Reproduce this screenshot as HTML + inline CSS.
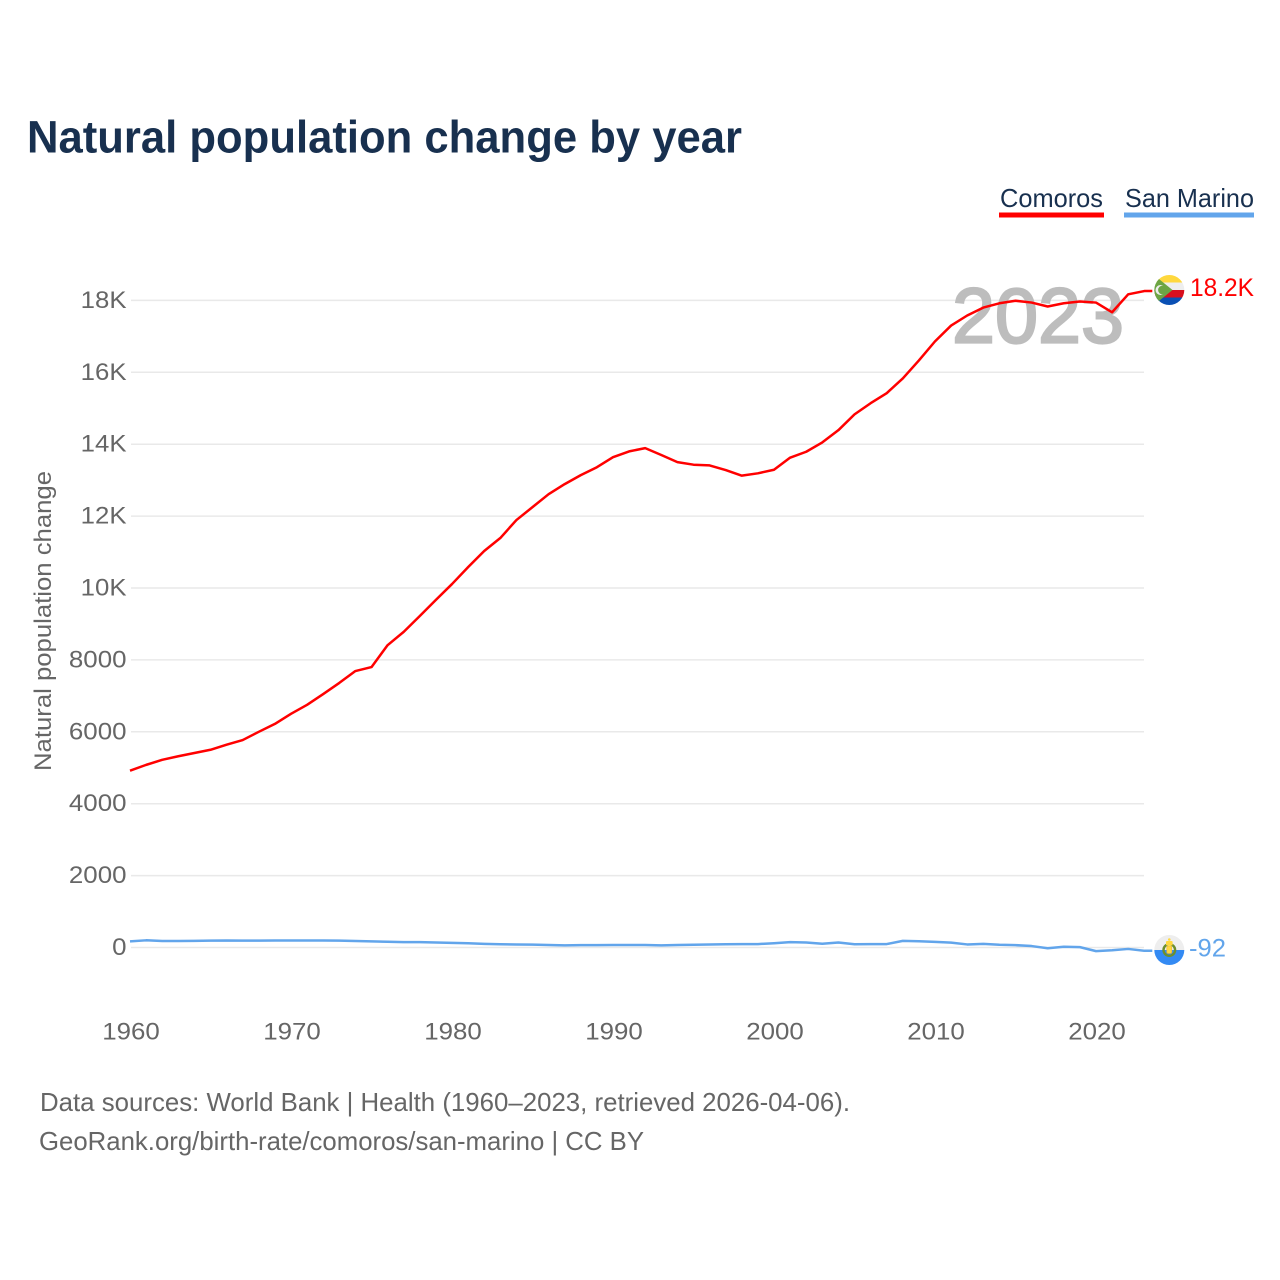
<!DOCTYPE html>
<html lang="en">
<head>
<meta charset="utf-8">
<title>Natural population change by year</title>
<style>
html,body{margin:0;padding:0;background:#fff;}
svg{display:block;font-family:"Liberation Sans",sans-serif;}
</style>
</head>
<body>
<svg id="chart" width="1280" height="1280" viewBox="0 0 1280 1280" xmlns="http://www.w3.org/2000/svg">
  <defs>
    <clipPath id="clip-km"><circle cx="1169.3" cy="290" r="15"/></clipPath>
    <clipPath id="clip-sm"><circle cx="1169.3" cy="950" r="15"/></clipPath>
  </defs>
  <rect width="1280" height="1280" fill="#fff"/>
  <text x="27" y="152.5" font-size="45" font-weight="700" fill="#18304f" textLength="715" lengthAdjust="spacingAndGlyphs">Natural population change by year</text>

  <g>
    <text x="1000" y="207" font-size="26" fill="#18304f" textLength="103" lengthAdjust="spacingAndGlyphs">Comoros</text>
    <rect x="999" y="212.5" width="105" height="5" fill="#ff0000"/>
  </g>
  <g>
    <text x="1125" y="207" font-size="26" fill="#18304f" textLength="129" lengthAdjust="spacingAndGlyphs">San Marino</text>
    <rect x="1124" y="212.5" width="130" height="5" fill="#62a5eb"/>
  </g>

  <g id="grid"></g>
  <text x="952" y="342.5" font-size="78" font-weight="400" fill="#bdbdbd" stroke="#bdbdbd" stroke-width="2.2" textLength="172" lengthAdjust="spacingAndGlyphs">2023</text>
  <g id="y-axis"></g>
  <g id="x-axis"></g>
  <text transform="translate(51,771) rotate(-90)" font-size="24" fill="#666" textLength="300" lengthAdjust="spacingAndGlyphs">Natural population change</text>
  <g id="series"></g>

  <g clip-path="url(#clip-km)">
    <rect x="1154" y="275" width="31" height="7.5" fill="#ffd83d"/>
    <rect x="1154" y="282.5" width="31" height="7.5" fill="#eeeeee"/>
    <rect x="1154" y="290" width="31" height="7.5" fill="#d80f1e"/>
    <rect x="1154" y="297.5" width="31" height="7.5" fill="#0a50b4"/>
    <path d="M1154 275 L1172.5 290 L1154 305 Z" fill="#6da544"/>
    <circle cx="1160.5" cy="290" r="5" fill="#eeeeee"/>
    <circle cx="1162.5" cy="290" r="4.4" fill="#6da544"/>
  </g>
  <g clip-path="url(#clip-sm)">
    <rect x="1154" y="935" width="31" height="15" fill="#eeeeee"/>
    <rect x="1154" y="950" width="31" height="15" fill="#338af3"/>
    <circle cx="1169.3" cy="950" r="5.8" fill="none" stroke="#6d8f2e" stroke-width="2.4"/>
    <rect x="1166.8" y="946" width="5" height="7.5" rx="1.5" fill="#ffd83d" stroke="#f0b429" stroke-width="0.6"/>
    <rect x="1166" y="941" width="6.6" height="4.5" rx="1" fill="#ffd83d"/>
    <circle cx="1169.3" cy="939.5" r="1.3" fill="#ffd83d"/>
  </g>
  <text x="1190" y="296" font-size="25" fill="#ff0000" textLength="64" lengthAdjust="spacingAndGlyphs">18.2K</text>
  <text x="1189" y="956.5" font-size="25" fill="#62a5eb" textLength="37" lengthAdjust="spacingAndGlyphs">-92</text>

  <text x="40" y="1111" font-size="26" fill="#666" textLength="810" lengthAdjust="spacingAndGlyphs">Data sources: World Bank | Health (1960–2023, retrieved 2026-04-06).</text>
  <text x="39" y="1150" font-size="26" fill="#666" textLength="605" lengthAdjust="spacingAndGlyphs">GeoRank.org/birth-rate/comoros/san-marino | CC BY</text>
</svg>
<script>
const firstYear = 1960;
const yTickValues = [0, 2000, 4000, 6000, 8000, 10000, 12000, 14000, 16000, 18000];
const yTickLabels = ["0", "2000", "4000", "6000", "8000", "10K", "12K", "14K", "16K", "18K"];
const xTickValues = [1960, 1970, 1980, 1990, 2000, 2010, 2020];
const comorosValues = [
  4917, 5080, 5220, 5320, 5410, 5500, 5640, 5770, 6000, 6220,
  6500, 6750, 7050, 7360, 7690, 7800, 8410, 8780, 9220, 9670,
  10110, 10580, 11030, 11390, 11890, 12250, 12610, 12890, 13140, 13360,
  13640, 13800, 13890, 13700, 13500, 13430, 13410, 13280, 13125, 13190,
  13290, 13625, 13790, 14050, 14390, 14830, 15140, 15420, 15830, 16330,
  16860, 17300, 17580, 17800, 17920, 17990, 17940, 17830, 17920, 17970,
  17940, 17670, 18170, 18260
];
const sanMarinoValues = [
  170, 200, 180, 180, 185, 190, 195, 190, 190, 195,
  195, 195, 195, 190, 180, 170, 160, 150, 150, 140,
  130, 120, 100, 90, 85, 80, 70, 60, 65, 65,
  70, 70, 70, 60, 70, 75, 85, 90, 95, 95,
  120, 150, 140, 105, 140, 90, 95, 95, 185, 175,
  155, 135, 85, 100, 75, 65, 40, -20, 20, 10,
  -100, -75, -40, -92
];

function xScale(year) { return 130 + (year - 1960) * 16.1; }
function yScale(value) { return 947.5 - value * 0.03595; }
function labelWidth(label) {
  const digits = label.replace(/K/g, "").length;
  return digits * 14.4 + (label.indexOf("K") >= 0 ? 17 : 0);
}
const NS = "http://www.w3.org/2000/svg";
function make(tag, attrs, parent) {
  const el = document.createElementNS(NS, tag);
  for (const k in attrs) el.setAttribute(k, attrs[k]);
  parent.appendChild(el);
  return el;
}
const gridGroup = document.getElementById("grid");
const yGroup = document.getElementById("y-axis");
const xGroup = document.getElementById("x-axis");
const seriesGroup = document.getElementById("series");

yTickValues.forEach(function (v, i) {
  const y = yScale(v);
  const line = make("line", {x1: 131, x2: 1144, y1: y, y2: y, stroke: "#e9e9e9", "stroke-width": 1.5}, gridGroup);
  
  
  const t = make("text", {x: 126.5, y: y + 7.5, "font-size": 24, fill: "#666", "text-anchor": "end", textLength: labelWidth(yTickLabels[i]), lengthAdjust: "spacingAndGlyphs"}, yGroup);
  
  
  t.textContent = yTickLabels[i];
});

xTickValues.forEach(function (year) {
  const t = make("text", {x: xScale(year) + 1, y: 1039.5, "font-size": 24, fill: "#666", "text-anchor": "middle", textLength: 57.5, lengthAdjust: "spacingAndGlyphs"}, xGroup);
  
  
  t.textContent = String(year);
});

function linePath(values) {
  return values.map(function (v, i) {
    return (i ? "L" : "M") + xScale(firstYear + i).toFixed(2) + " " + yScale(v).toFixed(2);
  }).join(" ");
}
function drawSeries(values, color) {
  const last = values.length - 1;
  const d = linePath(values) + " L" + (xScale(firstYear + last) + 8).toFixed(2) + " " + yScale(values[last]).toFixed(2);
  return make("path", {d: d, fill: "none", stroke: color, "stroke-width": 2.5, "stroke-linejoin": "round"}, seriesGroup);
}
const smLine = drawSeries(sanMarinoValues, "#62a5eb");


const kmLine = drawSeries(comorosValues, "#ff0000");


</script>
</body>
</html>
